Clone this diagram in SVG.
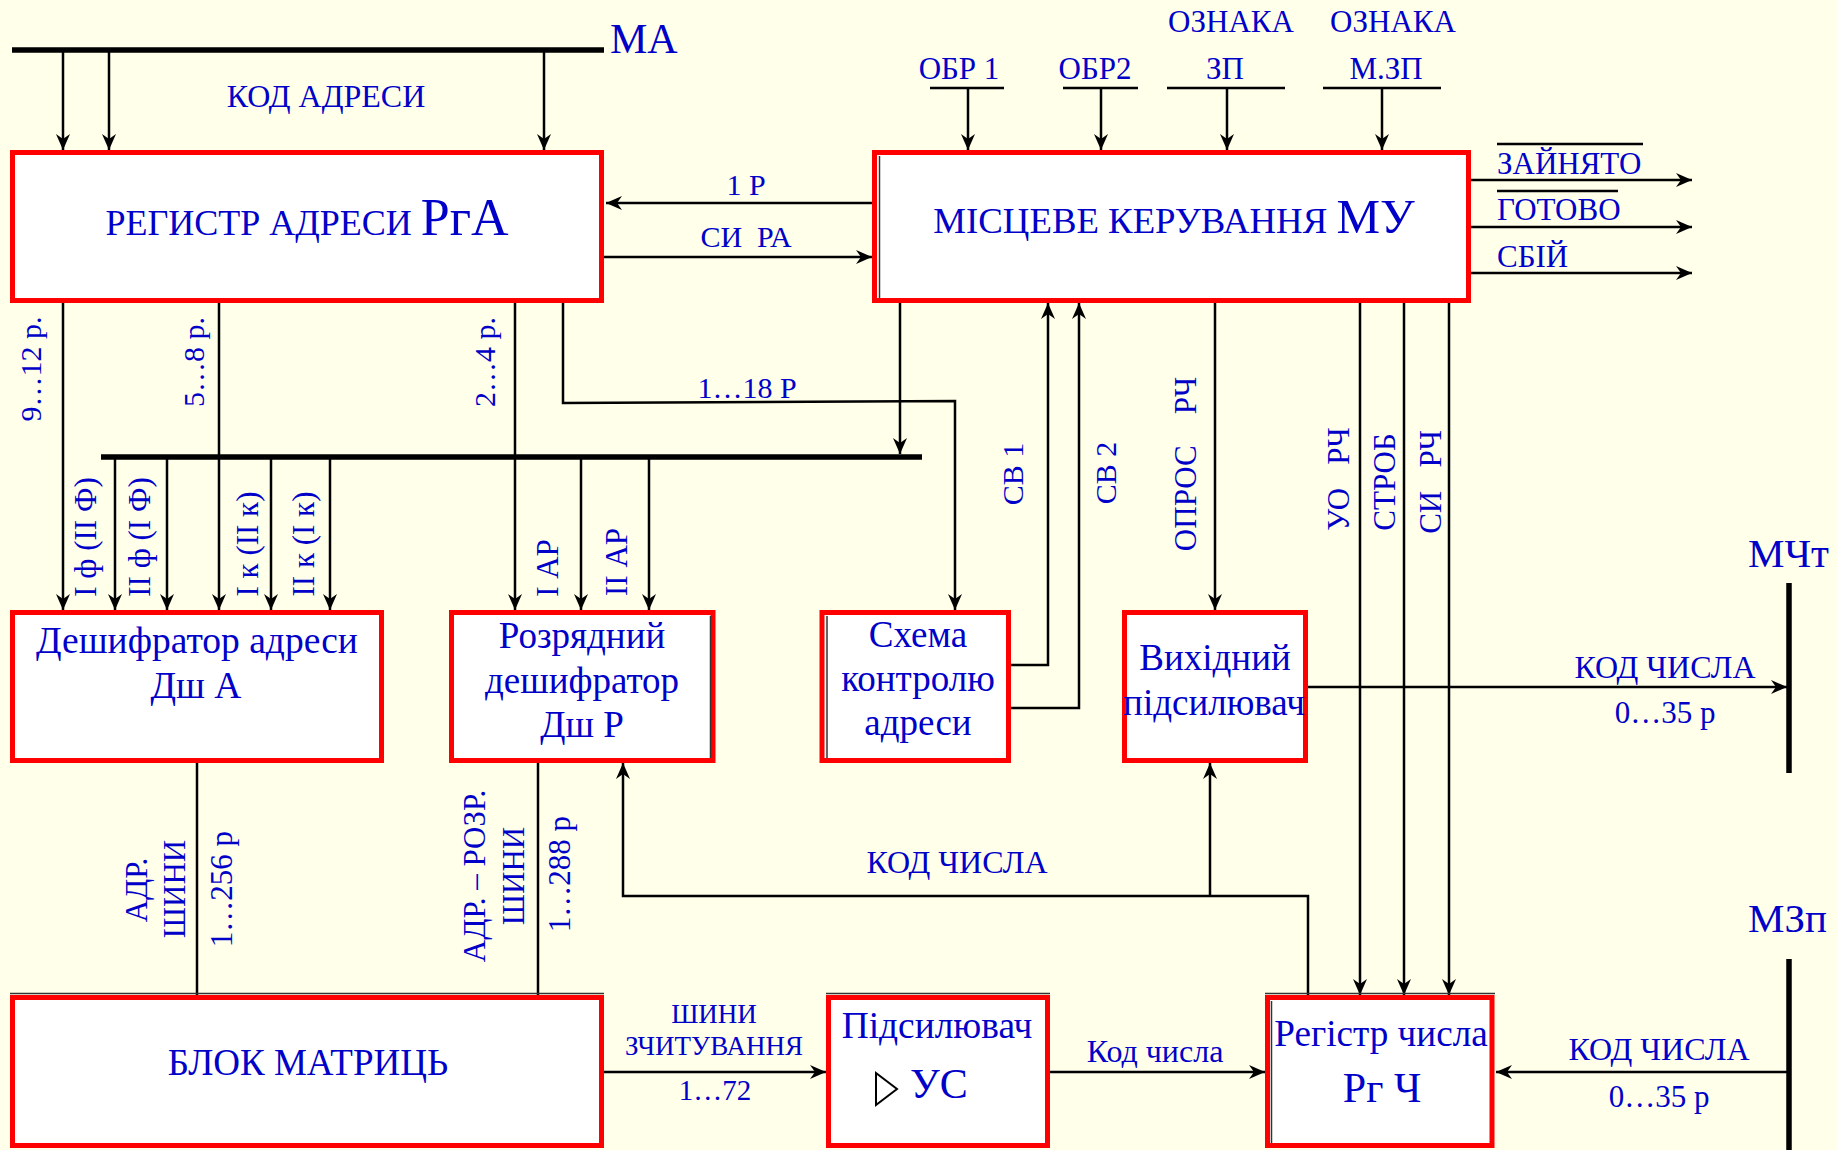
<svg xmlns="http://www.w3.org/2000/svg" width="1837" height="1150" viewBox="0 0 1837 1150" font-size="31">
<defs>
<style>
.t{font-family:"Liberation Serif","Times New Roman",serif;fill:#0000C8}
.m{text-anchor:middle}
.box{fill:#fff;stroke:#FF0000;stroke-width:5}
.ln{stroke:#000;stroke-width:2.5;fill:none}
.ar{stroke:#000;stroke-width:2.5;fill:none;marker-end:url(#ah)}
.bus{stroke:#000;stroke-width:5.5;fill:none}
.inner{stroke:#333;stroke-width:1.5;fill:none}
</style>
<marker id="ah" viewBox="-17 -8 18 16" refX="0" refY="0" markerWidth="18" markerHeight="16" markerUnits="userSpaceOnUse" orient="auto">
<path d="M0,0 L-16,-7 L-11,0 L-16,7 Z" fill="#000"/>
</marker>
</defs>
<rect x="0" y="0" width="1837" height="1150" fill="#FFFFEA"/>

<g id="connectors">
<line class="bus" x1="12" y1="50" x2="604" y2="50"/>
<line class="ar" x1="63" y1="52" x2="63" y2="150"/>
<line class="ar" x1="109" y1="52" x2="109" y2="150"/>
<line class="ar" x1="544" y1="52" x2="544" y2="150"/>
<line class="ln" x1="930" y1="88" x2="1004" y2="88"/>
<line class="ln" x1="1063" y1="88" x2="1138" y2="88"/>
<line class="ln" x1="1167" y1="88" x2="1285" y2="88"/>
<line class="ln" x1="1323" y1="88" x2="1441" y2="88"/>
<line class="ar" x1="968" y1="88" x2="968" y2="150"/>
<line class="ar" x1="1101" y1="88" x2="1101" y2="150"/>
<line class="ar" x1="1227" y1="88" x2="1227" y2="150"/>
<line class="ar" x1="1382" y1="88" x2="1382" y2="150"/>
<line class="ar" x1="872" y1="203" x2="606" y2="203"/>
<line class="ar" x1="604" y1="257" x2="872" y2="257"/>
<line class="ar" x1="1471" y1="180" x2="1692" y2="180"/>
<line class="ar" x1="1471" y1="227" x2="1692" y2="227"/>
<line class="ar" x1="1471" y1="273" x2="1692" y2="273"/>
<line class="ln" x1="1497" y1="144" x2="1643" y2="144" stroke-width="2"/>
<line class="ln" x1="1497" y1="191" x2="1618" y2="191" stroke-width="2"/>
<line class="ar" x1="63" y1="303" x2="63" y2="610"/>
<line class="ar" x1="219" y1="303" x2="219" y2="610"/>
<line class="ar" x1="515" y1="303" x2="515" y2="610"/>
<polyline class="ar" points="563,303 563,403 955,401 955,610"/>
<line class="bus" x1="101" y1="457" x2="922" y2="457"/>
<line class="ar" x1="900" y1="303" x2="900" y2="454"/>
<line class="ar" x1="115" y1="457" x2="115" y2="610"/>
<line class="ar" x1="167" y1="457" x2="167" y2="610"/>
<line class="ar" x1="271" y1="457" x2="271" y2="610"/>
<line class="ar" x1="330" y1="457" x2="330" y2="610"/>
<line class="ar" x1="581" y1="457" x2="581" y2="610"/>
<line class="ar" x1="649" y1="457" x2="649" y2="610"/>
<polyline class="ar" points="1011,665 1048,665 1048,303"/>
<polyline class="ar" points="1011,708 1079,708 1079,303"/>
<line class="ar" x1="1215" y1="303" x2="1215" y2="610"/>
<line class="ar" x1="1360" y1="303" x2="1360" y2="995"/>
<line class="ar" x1="1404" y1="303" x2="1404" y2="995"/>
<line class="ar" x1="1449" y1="303" x2="1449" y2="995"/>
<line class="ar" x1="1308" y1="687" x2="1787" y2="687"/>
<line class="bus" x1="1789" y1="583" x2="1789" y2="773" stroke-width="6"/>
<line class="bus" x1="1789" y1="959" x2="1789" y2="1150" stroke-width="6"/>
<line class="ar" x1="1787" y1="1072" x2="1496" y2="1072"/>
<line class="ar" x1="604" y1="1072" x2="826" y2="1072"/>
<line class="ar" x1="1050" y1="1072" x2="1265" y2="1072"/>
<polyline class="ar" points="1308,995 1308,896 623,896 623,763"/>
<line class="ar" x1="1210" y1="896" x2="1210" y2="763"/>
<line class="ln" x1="197" y1="763" x2="197" y2="995"/>
<line class="ln" x1="538" y1="763" x2="538" y2="995"/>
</g>

<g id="labels">
<text class="t" x="610" y="53" font-size="42">МА</text>
<text class="t m" x="326" y="107" font-size="32">КОД АДРЕСИ</text>
<text class="t m" x="746" y="195" font-size="30">1 Р</text>
<text class="t m" x="746" y="247" font-size="30">СИ&#160; РА</text>
<text class="t m" x="959" y="79">ОБР 1</text>
<text class="t m" x="1095" y="79">ОБР2</text>
<text class="t m" x="1231" y="32">ОЗНАКА</text>
<text class="t m" x="1225" y="79">ЗП</text>
<text class="t m" x="1393" y="32">ОЗНАКА</text>
<text class="t m" x="1386" y="79">М.ЗП</text>
<text class="t" x="1497" y="174">ЗАЙНЯТО</text>
<text class="t" x="1497" y="220">ГОТОВО</text>
<text class="t" x="1497" y="267">СБІЙ</text>
<text class="t m" x="747" y="398" font-size="30">1…18 Р</text>
<text class="t m" transform="rotate(-90 41 369)" x="41" y="369" font-size="30">9…12 р.</text>
<text class="t m" transform="rotate(-90 204 362)" x="204" y="362" font-size="30">5…8 р.</text>
<text class="t m" transform="rotate(-90 495 362)" x="495" y="362" font-size="30">2…4 р.</text>
<text class="t m" transform="rotate(-90 96 537)" x="96" y="537">І ф (ІІ Ф)</text>
<text class="t m" transform="rotate(-90 150 537)" x="150" y="537">ІІ ф (І Ф)</text>
<text class="t m" transform="rotate(-90 258 544)" x="258" y="544">І к (ІІ к)</text>
<text class="t m" transform="rotate(-90 314 544)" x="314" y="544">ІІ к (І к)</text>
<text class="t m" transform="rotate(-90 558 568)" x="558" y="568">І АР</text>
<text class="t m" transform="rotate(-90 627 562)" x="627" y="562">ІІ АР</text>
<text class="t m" transform="rotate(-90 1023 474)" x="1023" y="474" font-size="30">СВ 1</text>
<text class="t m" transform="rotate(-90 1116 473)" x="1116" y="473" font-size="30">СВ 2</text>
<text class="t m" transform="rotate(-90 1196 464)" x="1196" y="464">ОПРОС&#160;&#160;&#160;&#160;РЧ</text>
<text class="t m" transform="rotate(-90 1349 479)" x="1349" y="479">УО&#160;&#160;&#160;РЧ</text>
<text class="t m" transform="rotate(-90 1395 482)" x="1395" y="482">СТРОБ</text>
<text class="t m" transform="rotate(-90 1441 482)" x="1441" y="482">СИ&#160;&#160;&#160;РЧ</text>
<text class="t m" x="1665" y="678" font-size="32">КОД ЧИСЛА</text>
<text class="t m" x="1665" y="723">0…35 р</text>
<text class="t" x="1748" y="567" font-size="41">МЧт</text>
<text class="t m" x="957" y="873" font-size="32">КОД ЧИСЛА</text>
<text class="t m" transform="rotate(-90 147 890)" x="147" y="890">АДР.</text>
<text class="t m" transform="rotate(-90 185 889)" x="185" y="889">ШИНИ</text>
<text class="t m" transform="rotate(-90 232 889)" x="232" y="889">1…256 р</text>
<text class="t m" transform="rotate(-90 485 876)" x="485" y="876">АДР. – РОЗР.</text>
<text class="t m" transform="rotate(-90 524 876)" x="524" y="876">ШИНИ</text>
<text class="t m" transform="rotate(-90 570 874)" x="570" y="874">1…288 р</text>
<text class="t m" x="714" y="1023" font-size="27">ШИНИ</text>
<text class="t m" x="714" y="1055" font-size="27">ЗЧИТУВАННЯ</text>
<text class="t m" x="715" y="1100" font-size="29">1…72</text>
<text class="t m" x="1155" y="1062" font-size="32">Код числа</text>
<text class="t m" x="1659" y="1060" font-size="32">КОД ЧИСЛА</text>
<text class="t m" x="1659" y="1107">0…35 р</text>
<text class="t" x="1748" y="932" font-size="41">МЗп</text>
</g>

<g id="node-rga">
<rect class="box" x="12.5" y="152.5" width="589" height="148"/>
<text class="t m" x="307" y="235" font-size="36">РЕГИСТР АДРЕСИ <tspan font-size="52">РгА</tspan></text>
</g>
<g id="node-mu">
<rect class="box" x="874.5" y="152.5" width="594" height="148"/>
<line class="inner" x1="879.5" y1="156" x2="879.5" y2="298"/>
<text class="t m" x="1174" y="233" font-size="36.8">МІСЦЕВЕ КЕРУВАННЯ <tspan font-size="49">МУ</tspan></text>
</g>
<g id="node-dsha">
<rect class="box" x="12.5" y="612.5" width="369" height="148"/>
<text class="t m" x="197" y="653" font-size="37.5">Дешифратор адреси</text>
<text class="t m" x="196" y="698" font-size="37.5">Дш А</text>
</g>
<g id="node-dshr">
<rect class="box" x="451.5" y="612.5" width="261.5" height="148"/>
<line class="inner" x1="710.5" y1="616" x2="710.5" y2="758"/>
<text class="t m" x="582" y="648" font-size="37">Розрядний</text>
<text class="t m" x="582" y="693" font-size="37">дешифратор</text>
<text class="t m" x="582" y="737" font-size="37">Дш Р</text>
</g>
<g id="node-skha">
<rect class="box" x="822" y="612.5" width="186.5" height="148"/>
<line class="inner" x1="827" y1="616" x2="827" y2="758"/>
<text class="t m" x="918" y="647" font-size="37">Схема</text>
<text class="t m" x="918" y="691" font-size="37">контролю</text>
<text class="t m" x="918" y="735" font-size="37">адреси</text>
</g>
<g id="node-vp">
<rect class="box" x="1124.5" y="612.5" width="181" height="148"/>
<text class="t m" x="1215" y="670" font-size="37">Вихідний</text>
<text class="t m" x="1214" y="715" font-size="37">підсилювач</text>
</g>
<g id="node-bm">
<line class="inner" x1="10" y1="993.5" x2="604" y2="993.5" stroke="#000"/>
<rect class="box" x="12.5" y="997.5" width="589" height="148"/>
<text class="t m" x="308" y="1075" font-size="37">БЛОК МАТРИЦЬ</text>
</g>
<g id="node-us">
<line class="inner" x1="826" y1="993.5" x2="1050" y2="993.5" stroke="#666"/>
<rect class="box" x="828.5" y="997.5" width="219" height="148"/>
<text class="t m" x="937" y="1038" font-size="37.4">Підсилювач</text>
<polygon points="876,1073 897,1089 876,1105" fill="#fff" stroke="#000" stroke-width="2"/>
<text class="t" x="910" y="1098" font-size="42">УС</text>
</g>
<g id="node-rgch">
<line class="inner" x1="1265" y1="993.5" x2="1495" y2="993.5" stroke="#666"/>
<rect class="box" x="1267.5" y="997.5" width="224.5" height="148"/>
<line class="inner" x1="1271.5" y1="1001" x2="1271.5" y2="1143"/>
<text class="t m" x="1381" y="1046" font-size="37.2">Регістр числа</text>
<text class="t m" x="1382" y="1102" font-size="42">Рг Ч</text>
</g>
</svg>
